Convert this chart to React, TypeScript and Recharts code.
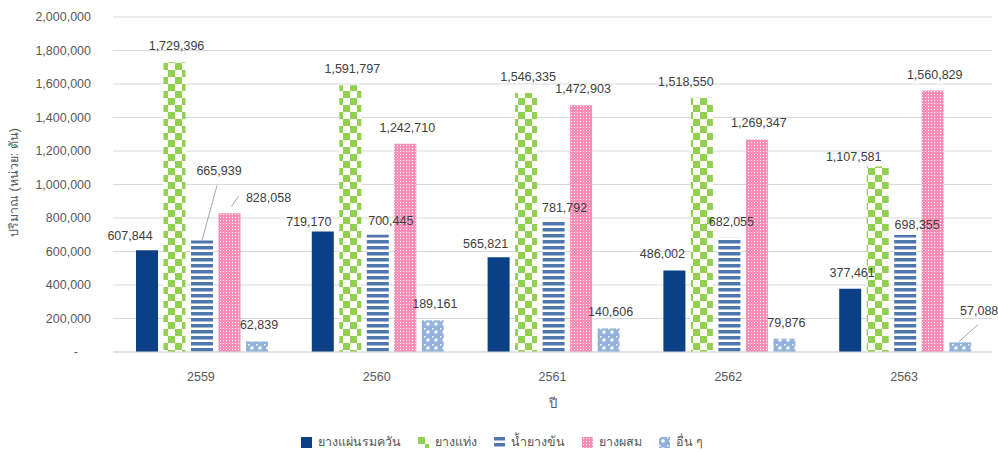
import React from 'react'
import { Bar, BarChart, CartesianGrid, Label, LabelList, XAxis, YAxis } from 'recharts'

// Thai rubber production by type, 2559–2563 (unit: tonnes).
// Excel-style grouped bars with pattern fills and hand-nudged value labels.

const years = ['2559', '2560', '2561', '2562', '2563']
const smokedSheet = [607844, 719170, 565821, 486002, 377461]
const blockRubber = [1729396, 1591797, 1546335, 1518550, 1107581]
const latex = [665939, 700445, 781792, 682055, 698355]
const compound = [828058, 1242710, 1472903, 1269347, 1560829]
const others = [62839, 189161, 140606, 79876, 57088]
const seriesNames = ['ยางแผ่นรมควัน', 'ยางแท่ง', 'น้ำยางข้น', 'ยางผสม', 'อื่น ๆ']
const yTicks = [0, 200000, 400000, 600000, 800000, 1000000, 1200000, 1400000, 1600000, 1800000, 2000000]

const data = years.map((year, i) => ({
  year,
  s0: smokedSheet[i],
  s1: blockRubber[i],
  s2: latex[i],
  s3: compound[i],
  s4: others[i],
}))

const FONT = '"Liberation Sans", Arial, "Noto Sans", sans-serif'
const fills = ['#0b3f86', 'url(#pat-check)', 'url(#pat-stripe)', 'url(#pat-dots)', 'url(#pat-blob)']

// label placement (relative to bar top centre), mimicking the manual moves in the original
type Nudge = { dx: number; dy: number; leader?: [number, number, number, number] }
const DEFAULT_NUDGE: Nudge = { dx: 2, dy: -16 }
const LABEL_NUDGE: Record<string, Nudge> = {
  '0-0': { dx: -17, dy: -14 },
  '2-0': { dx: 17, dy: -69, leader: [0, 0, -2, 14] },
  '3-0': { dx: 39, dy: -15, leader: [2, -7, -30, -2] },
  '0-1': { dx: -14, dy: -10 },
  '2-1': { dx: 13, dy: -14 },
  '0-2': { dx: -13, dy: -13 },
  '2-2': { dx: 11, dy: -13 },
  '0-3': { dx: -12, dy: -17 },
  '1-3': { dx: -16, dy: -16 },
  '1-4': { dx: -24, dy: -9 },
  '2-4': { dx: 12, dy: -10 },
  '4-4': { dx: 19, dy: -31, leader: [-1, -1, -1, 13] },
}

const fmt = (v: number) => v.toLocaleString('en-US')

function ValueLabel(props: any) {
  const { x, y, width, value, index, series } = props
  const cx = Number(x) + Number(width) / 2
  const top = Number(y)
  const n = LABEL_NUDGE[`${series}-${index}`] ?? DEFAULT_NUDGE
  const lx = cx + n.dx
  const ly = top + n.dy
  return (
    <g>
      {n.leader && (
        <line
          x1={cx + n.leader[0]}
          y1={top + n.leader[1]}
          x2={lx + n.leader[2]}
          y2={ly + n.leader[3]}
          stroke="#a6a6a6"
          strokeWidth={1}
        />
      )}
      <text
        x={lx}
        y={ly}
        textAnchor="middle"
        dominantBaseline="central"
        fontFamily={FONT}
        fontSize={12.5}
        fill="#404040"
      >
        {fmt(value)}
      </text>
    </g>
  )
}

function YTick({ x, y, payload }: any) {
  const v = payload.value as number
  return (
    <text
      x={v === 0 ? x - 13 : x}
      y={y}
      dy="0.35em"
      textAnchor="end"
      fontFamily={FONT}
      fontSize={12.5}
      fill="#595959"
    >
      {v === 0 ? '-' : fmt(v)}
    </text>
  )
}

function PatternDefs() {
  return (
    <defs>
      <pattern id="pat-check" width={14} height={14} patternUnits="userSpaceOnUse">
        <rect width={14} height={14} fill="#ffffff" />
        <rect x={0} y={0} width={7} height={7} fill="#92d050" />
        <rect x={7} y={7} width={7} height={7} fill="#92d050" />
      </pattern>
      <pattern id="pat-stripe" width={6} height={6} patternUnits="userSpaceOnUse">
        <rect width={6} height={6} fill="#ffffff" />
        <rect x={0} y={0} width={6} height={3.5} fill="#4f77ad" />
      </pattern>
      <pattern id="pat-dots" width={3} height={3} patternUnits="userSpaceOnUse">
        <rect width={3} height={3} fill="#f98db6" />
        <rect x={1} y={1} width={1} height={1} fill="#ffffff" />
      </pattern>
      <pattern id="pat-blob" width={8} height={8} patternUnits="userSpaceOnUse">
        <rect width={8} height={8} fill="#92b1dc" />
        <circle cx={4} cy={4} r={1.8} fill="#ffffff" />
        <rect x={0} y={0} width={1.5} height={1.5} fill="#ffffff" />
      </pattern>
    </defs>
  )
}

function ChartLegend() {
  return (
    <div
      style={{
        position: 'absolute',
        top: 432,
        left: 0,
        width: 1004,
        display: 'flex',
        justifyContent: 'center',
        gap: 17,
        fontFamily: FONT,
        fontSize: 12.5,
        color: '#595959',
      }}
    >
      {seriesNames.map((name, i) => (
        <div key={name} style={{ display: 'flex', alignItems: 'center', gap: 6 }}>
          <svg width={11} height={11}>
            <rect width={11} height={11} fill={fills[i]} />
          </svg>
          <span>{name}</span>
        </div>
      ))}
    </div>
  )
}

export default function App() {
  return (
    <div style={{ position: 'absolute', left: 0, top: 0, width: 998, height: 452, background: '#fff' }}>
      <BarChart
        width={998}
        height={452}
        data={data}
        margin={{ top: 17, right: 6, bottom: 40, left: 0 }}
        barCategoryGap={23}
        barGap={5.5}
      >
        <PatternDefs />
        <CartesianGrid vertical={false} stroke="#d9d9d9" />
        <XAxis
          dataKey="year"
          height={60}
          tickLine={false}
          axisLine={{ stroke: '#d9d9d9' }}
          tickSize={0}
          tickMargin={20}
          tick={{ fill: '#595959', fontSize: 12.5, fontFamily: FONT }}
        >
          <Label
            content={({ viewBox }: any) => (
              <text
                x={viewBox.x + viewBox.width / 2}
                y={viewBox.y + 51}
                textAnchor="middle"
                dominantBaseline="central"
                fontFamily={FONT}
                fontSize={13}
                fill="#595959"
              >
                ปี
              </text>
            )}
          />
        </XAxis>
        <YAxis
          width={113}
          domain={[0, 2000000]}
          ticks={yTicks}
          interval={0}
          tickLine={false}
          axisLine={false}
          tickSize={0}
          tickMargin={22}
          tick={<YTick />}
        >
          <Label
            content={({ viewBox }: any) => {
              const x = viewBox.x + 14
              const y = viewBox.y + viewBox.height / 2 - 2
              return (
                <text
                  x={x}
                  y={y}
                  transform={`rotate(-90 ${x} ${y})`}
                  textAnchor="middle"
                  dominantBaseline="central"
                  fontFamily={FONT}
                  fontSize={12.5}
                  fill="#595959"
                >
                  ปริมาณ (หน่วย: ตัน)
                </text>
              )
            }}
          />
        </YAxis>
        {['s0', 's1', 's2', 's3', 's4'].map((key, si) => (
          <Bar key={key} dataKey={key} name={seriesNames[si]} fill={fills[si]} isAnimationActive={false}>
            <LabelList dataKey={key} content={(p: any) => <ValueLabel {...p} series={si} />} />
          </Bar>
        ))}
      </BarChart>
      <ChartLegend />
    </div>
  )
}
